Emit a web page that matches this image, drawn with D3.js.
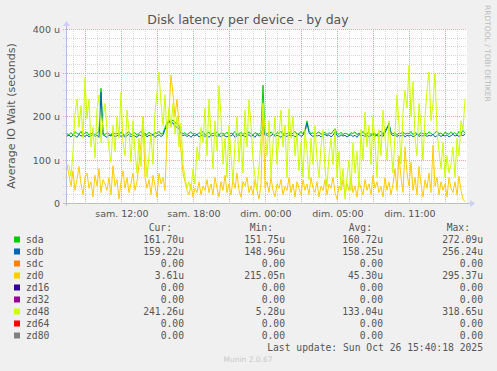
<!DOCTYPE html>
<html>
<head>
<meta charset="utf-8">
<script src="https://cdn.jsdelivr.net/npm/d3@7"></script>
<style>
  html, body { margin: 0; padding: 0; background: #f0f0f0; }
  svg { display: block; }
  text { font-family: "DejaVu Sans", sans-serif; fill: #555; }
  .mono { font-family: "DejaVu Sans Mono", monospace; font-size: 9.7px; fill: #555; }
</style>
</head>
<body>
<svg id="chart" width="497" height="371"></svg>
<script>
// --- data (values in microseconds, one point every 10 minutes) ---
var startTime = Date.UTC(2025, 9, 25, 5, 28);
var endTime = startTime + 400 * 5 * 60 * 1000;
var stepMs = 10 * 60 * 1000;

var tickTimes = [Date.UTC(2025, 9, 25, 10), Date.UTC(2025, 9, 25, 16), Date.UTC(2025, 9, 25, 22),
                 Date.UTC(2025, 9, 26, 4), Date.UTC(2025, 9, 26, 10)];
var tickLabels = ["sam. 12:00", "sam. 18:00", "dim. 00:00", "dim. 05:00", "dim. 11:00"];
var yTicks = [0, 100, 200, 300, 400];

var sda = [160,158,163,157,165,161,159,166,158,162, 164,157,160,163,158,161,166,265,162,158,
           163,160,157,165,159,162,158,164,160,156, 162,165,158,160,163,157,161,166,159,162,
           158,164,160,157,163,161,166,159,162,175, 185,190,188,192,186,183,178,165,160,163,
           158,162,165,159,161,157,163,160,166,158, 161,164,158,162,160,165,157,163,161,159,
           164,158,162,160,166,157,161,163,159,162, 158,165,160,157,163,161,159,164,272,160,
           162,158,165,160,157,163,161,166,159,162, 160,164,158,162,166,159,161,165,160,170,
           190,168,160,163,158,162,165,159,161,164, 158,163,160,166,172,161,159,164,158,162,
           160,157,163,161,165,158,162,160,166,159, 161,164,158,162,160,157,163,166,159,168,
           175,180,165,160,163,158,162,161,165,159, 162,160,166,158,163,161,157,164,160,162,
           159,165,161,158,163,166,160,162,157,164, 161,159,165,160,163,158,166,161,168,162];
var sdb = [155,157,153,158,156,152,159,155,157,154, 158,153,156,159,154,157,152,256,158,155,
           152,157,155,159,153,156,158,154,157,152, 156,159,153,157,155,152,158,156,154,159,
           153,157,155,159,152,156,158,154,157,170, 180,190,182,186,178,175,172,160,156,158,
           154,157,152,158,155,159,153,156,158,154, 157,152,158,155,159,153,156,154,158,155,
           153,157,155,159,152,156,158,154,157,153, 156,158,154,157,152,159,155,157,180,156,
           158,153,156,159,154,157,155,152,158,156, 154,158,155,157,153,156,159,154,157,165,
           185,163,157,154,158,155,157,153,156,159, 155,158,153,157,165,156,154,158,155,157,
           153,156,158,154,157,152,159,155,157,154, 158,153,156,159,155,157,152,158,154,163,
           172,185,160,156,158,154,157,155,159,153, 157,155,158,153,156,159,154,157,155,158,
           154,157,155,159,153,156,158,154,157,155, 158,153,156,159,155,157,154,158,156,159];
var zd0 = [90,65,40,75,30,55,85,45,20,60, 70,35,50,15,65,40,80,25,55,45,
           30,60,20,87,40,55,10,50,75,35, 60,25,45,70,30,50,90,140,200,60,
           35,55,20,65,40,15,70,45,60,30, 160,210,295,250,200,240,180,120,70,50,
           30,20,45,15,35,25,50,20,40,30, 55,25,45,20,60,35,15,50,30,65,
           25,45,20,55,35,70,30,15,50,40, 60,25,40,20,55,30,10,45,230,35,
           50,25,60,30,15,45,35,55,20,40, 30,60,25,45,15,50,35,20,55,30,
           45,20,60,35,25,50,15,40,30,55, 20,45,35,60,25,10,40,30,55,20,
           45,30,60,25,40,15,50,35,20,55, 30,45,20,65,35,50,25,40,15,60,
           30,50,20,45,80,30,110,60,25,130, 70,40,95,30,60,20,85,45,15,55,
           35,70,25,134,40,60,20,50,30,45, 15,60,35,25,50,20,63,30,10,4];
var zd48 = [85,88,62,120,205, 240,175,225,150,290,195,240, 130,175,105,215,250,
            140,195,230,170,125, 95,180,120,200,150,256, 140,110,215,165,95,190,
            120,70,150,85,200,130,60,110, 160,90,210,255,302, 230,180,250,150,220,175,
            230,160,200,130,185,90, 60,35,50,30,80, 45,130,100,175,140,
            220,110,240,160,80,190, 120,271,200,90,150, 60,180,110,50,140,200,95,
            160,70,215,130,239,180,100, 60,30,85,150,230,170, 110,190,60,140,200,90,160,
            215,130,180,60,218,150, 200,110,160,75,140,60, 170,120,55,150,90,180,100,
            60,130,170,80,40,110,150, 90,170,60,120,35,80,10, 60,100,30,140,70,120,40,
            170,100,210,130,180,90, 200,140,60,170,110,215,150, 100,190,130,70,160,
            250,180,90,210,260, 220,318,200,280,150, 110,230,180,100,200,
            260,302,190,230,300,170,120, 80,140,60,110,70,90, 130,60,150,110,190,170,241];
var zeros = sda.map(function() { return 0; });

var seriesNames = ["sda", "sdb", "sdc", "zd0", "zd16", "zd32", "zd48", "zd64", "zd80"];
var seriesColors = ["#00cc00", "#0066b3", "#ff8000", "#ffcc00", "#330099", "#990099", "#ccff00", "#ff0000", "#808080"];
var seriesValues = [sda, sdb, zeros, zd0, zeros, zeros, zd48, zeros, zeros];
var curVals = ["161.70u", "159.22u", "0.00", "3.61u", "0.00", "0.00", "241.26u", "0.00", "0.00"];
var minVals = ["151.75u", "148.96u", "0.00", "215.05n", "0.00", "0.00", "5.28u", "0.00", "0.00"];
var avgVals = ["160.72u", "158.25u", "0.00", "45.30u", "0.00", "0.00", "133.04u", "0.00", "0.00"];
var maxVals = ["272.09u", "256.24u", "0.00", "295.37u", "0.00", "0.00", "318.65u", "0.00", "0.00"];

// --- layout ---
var plotLeft = 67, plotRight = 467, plotTop = 29, plotBottom = 203;
var svg = d3.select("#chart");

var x = d3.scaleTime().domain([startTime, endTime]).range([plotLeft, plotRight]);
// half-pixel offset so the zero lines sit under the axis line like rrdtool
var y = d3.scaleLinear().domain([0, 400]).range([plotBottom + 0.5, plotTop + 0.5]);

svg.append("rect").attr("x", plotLeft).attr("y", plotTop)
   .attr("width", plotRight - plotLeft).attr("height", plotBottom - plotTop).attr("fill", "#fff");

// minor grid
var hours = d3.utcHour.range(new Date(startTime), new Date(endTime));
svg.append("g").selectAll("line").data(hours.filter(function(d) { return d.getUTCHours() % 3 != 1; }))
   .enter().append("line")
   .attr("x1", function(d) { return Math.round(x(d)) + 0.5; })
   .attr("x2", function(d) { return Math.round(x(d)) + 0.5; })
   .attr("y1", plotTop).attr("y2", plotBottom + 2)
   .attr("stroke", "#d8d8d8").attr("stroke-dasharray", "1,1");
svg.append("g").selectAll("line").data(d3.range(20, 400, 20).filter(function(v) { return v % 100 != 0; }))
   .enter().append("line")
   .attr("x1", plotLeft - 4).attr("x2", plotRight)
   .attr("y1", function(v) { return Math.floor(y(v)) + 0.5; })
   .attr("y2", function(v) { return Math.floor(y(v)) + 0.5; })
   .attr("stroke", "#d8d8d8").attr("stroke-dasharray", "1,1");

// major grid
svg.append("g").selectAll("line").data(hours.filter(function(d) { return d.getUTCHours() % 3 == 1; }))
   .enter().append("line")
   .attr("x1", function(d) { return Math.round(x(d)) + 0.5; })
   .attr("x2", function(d) { return Math.round(x(d)) + 0.5; })
   .attr("y1", plotTop).attr("y2", plotBottom + 2)
   .attr("stroke", "#e8a8a8").attr("stroke-dasharray", "1,1");
svg.append("g").selectAll("line").data(yTicks.slice(1))
   .enter().append("line")
   .attr("x1", plotLeft - 4).attr("x2", plotRight)
   .attr("y1", function(v) { return Math.floor(y(v)) + 0.5; })
   .attr("y2", function(v) { return Math.floor(y(v)) + 0.5; })
   .attr("stroke", "#e8a8a8").attr("stroke-dasharray", "1,1");

// series lines, drawn in munin order
var line = d3.line()
    .x(function(v, i) { return x(startTime + i * stepMs); })
    .y(function(v) { return y(v); });
seriesValues.forEach(function(vals, k) {
    svg.append("path").datum(vals)
       .attr("d", line)
       .attr("fill", "none")
       .attr("stroke", seriesColors[k])
       .attr("stroke-width", 1);
});

// axes lines + arrows
svg.append("line").attr("x1", plotLeft - 4).attr("x2", plotRight + 3)
   .attr("y1", plotBottom + 0.5).attr("y2", plotBottom + 0.5).attr("stroke", "#b8bce0");
svg.append("line").attr("x1", plotLeft - 0.5).attr("x2", plotLeft - 0.5)
   .attr("y1", plotBottom + 3).attr("y2", plotTop - 4).attr("stroke", "#b8bce0");
svg.append("path").attr("d", "M" + (plotRight + 3) + "," + (plotBottom - 3) + "L" + (plotRight + 8) + "," + (plotBottom + 0.5) + "L" + (plotRight + 3) + "," + (plotBottom + 4) + "Z")
   .attr("fill", "#cbd0f5");
svg.append("path").attr("d", "M" + (plotLeft - 4) + "," + (plotTop - 3) + "L" + (plotLeft - 0.5) + "," + (plotTop - 8) + "L" + (plotLeft + 3) + "," + (plotTop - 3) + "Z")
   .attr("fill", "#cbd0f5");

// tick labels through d3 axes
var yAxis = svg.append("g").attr("transform", "translate(" + plotLeft + ",0)")
   .call(d3.axisLeft(y).tickValues(yTicks).tickSize(0).tickPadding(7)
         .tickFormat(function(d) { return d == 0 ? "0" : d + " u"; }));
var xAxis = svg.append("g").attr("transform", "translate(0," + plotBottom + ")")
   .call(d3.axisBottom(x).tickValues(tickTimes).tickSize(0).tickPadding(7)
         .tickFormat(function(d, i) { return tickLabels[i]; }));
[yAxis, xAxis].forEach(function(g) {
    g.select(".domain").remove();
    g.selectAll("text").attr("font-family", "DejaVu Sans").attr("font-size", "9.5px").attr("fill", "#555");
});

// titles
svg.append("text").attr("x", 248).attr("y", 24).attr("text-anchor", "middle")
   .attr("font-size", "12.5px").text("Disk latency per device - by day");
svg.append("text").attr("transform", "translate(15,116) rotate(-90)").attr("text-anchor", "middle")
   .attr("font-size", "11px").text("Average IO Wait (seconds)");
svg.append("text").attr("transform", "translate(485,5) rotate(90)")
   .attr("font-size", "7.5px").style("fill", "#bbb").text("RRDTOOL / TOBI OETIKER");

// legend
var headers = ["Cur:", "Min:", "Avg:", "Max:"];
var headerX = [172, 273, 372, 470];
var colX = [184, 285, 383, 483];
var cols = [curVals, minVals, avgVals, maxVals];
headers.forEach(function(h, j) {
    svg.append("text").attr("class", "mono").attr("x", headerX[j]).attr("y", 230.5)
       .attr("text-anchor", "end").text(h);
});
var rows = svg.append("g").selectAll("g").data(seriesNames).enter().append("g")
   .attr("transform", function(d, k) { return "translate(0," + (242.5 + 12 * k) + ")"; });
rows.append("rect").attr("x", 14).attr("y", -6).attr("width", 6).attr("height", 6)
   .attr("fill", function(d, k) { return seriesColors[k]; });
rows.append("text").attr("class", "mono").attr("x", 26).text(function(d) { return d; });
cols.forEach(function(col, j) {
    rows.append("text").attr("class", "mono").attr("x", colX[j]).attr("text-anchor", "end")
        .text(function(d, k) { return col[k]; });
});
svg.append("text").attr("class", "mono").attr("x", 483).attr("y", 350.5).attr("text-anchor", "end")
   .text("Last update: Sun Oct 26 15:40:18 2025");
svg.append("text").attr("x", 248).attr("y", 362).attr("text-anchor", "middle")
   .attr("font-size", "7.5px").style("fill", "#c8c8c8").text("Munin 2.0.67");
</script>
</body>
</html>
